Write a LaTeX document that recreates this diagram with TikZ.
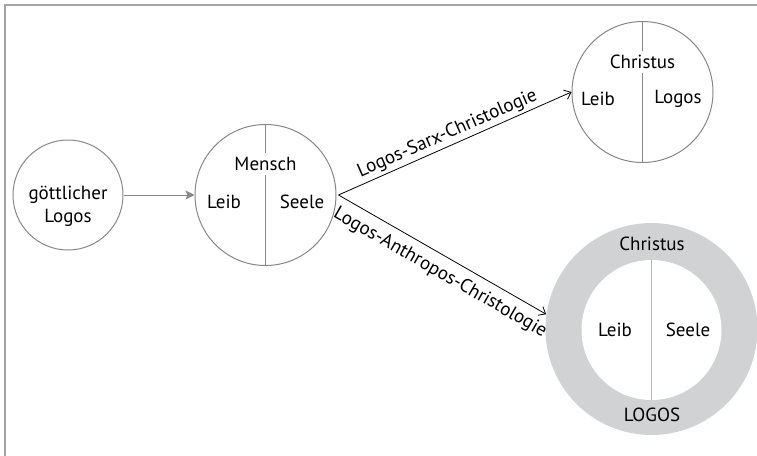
\documentclass[tikz,border=0pt]{standalone}
\usepackage{fontspec}
\setmainfont{PT Sans}
\usetikzlibrary{arrows.meta}
\definecolor{rimgray}{RGB}{135,135,135}
\definecolor{framegray}{RGB}{165,165,165}
\definecolor{ringgray}{RGB}{209,210,212}
\definecolor{splitgray}{RGB}{182,182,182}

\begin{document}
\begin{tikzpicture}[x=0.5pt, y=-0.5pt,
		soul/.style={circle, draw=rimgray, line width=0.5pt, inner sep=0pt, minimum size=#1},
		word/.style={font=\fontsize{9.5}{11.5}\selectfont, inner sep=2pt, align=center},
		split/.style={draw=rimgray, line width=0.5pt},
		way/.style={draw=black, line width=0.4pt, -{Straight Barb[length=3pt, width=5pt]}}]
			\useasboundingbox (0, 0) rectangle (757, 456);
			\draw[framegray, line width=0.75pt] (5, 456) -- (5, 5) -- (757, 5);

			\node[soul=55pt] (logos) at (68, 195) {};
			\node[word] (logostext) at (68, 206) {göttlicher\\Logos};

			\node[soul=70.5pt] (mensch) at (265.5, 195) {};
			\node[word] (menschtitel) at (265.5, 164) {Mensch};
			\node[word] (menschleib) at (224, 202) {Leib};
			\node[word] (menschseele) at (302, 202) {Seele};
			\draw[split] (mensch.north) -- (menschtitel.north);
			\draw[split] (menschtitel.south) -- (mensch.south);

			\node[soul=70.5pt] (sarx) at (642.5, 92) {};
			\node[word] (sarxtitel) at (642.5, 62) {Christus};
			\node[word] (sarxleib) at (598, 99) {Leib};
			\node[word] (sarxlogos) at (678, 99) {Logos};
			\draw[split] (sarx.north) -- (sarxtitel.north);
			\draw[split] (sarxtitel.south) -- (sarx.south);

			\node[circle, fill=ringgray, inner sep=0pt, minimum size=106pt] (ring) at (651.5, 329) {};
			\node[circle, fill=white, inner sep=0pt, minimum size=70pt] (kern) at (651.5, 330) {};
			\draw[splitgray, line width=0.6pt] (kern.north) -- (kern.south);
			\node[word] (ringtitel) at (652, 244) {Christus};
			\node[word] (ringlogos) at (652, 415) {LOGOS};
			\node[word] (ringleib) at (615, 330) {Leib};
			\node[word] (ringseele) at (688, 330) {Seele};

			\draw[rimgray, line width=0.5pt, -{Stealth[length=4.5pt, width=4.5pt, inset=1pt]}]
			(logos.east) -- (mensch.west);

			\coordinate (fork) at ([xshift=1pt]mensch.east);
			\draw[way] (fork) -- (sarx.west);
			\draw[way] (fork) -- (ring.172);
			\node[word, rotate=23.7] (sarxweg) at (447.5, 134) {Logos-Sarx-Christologie};
			\node[word, rotate=-29.8] (anthroposweg) at (440, 273) {Logos-Anthropos-Christologie};

		\end{tikzpicture}
\end{document}
